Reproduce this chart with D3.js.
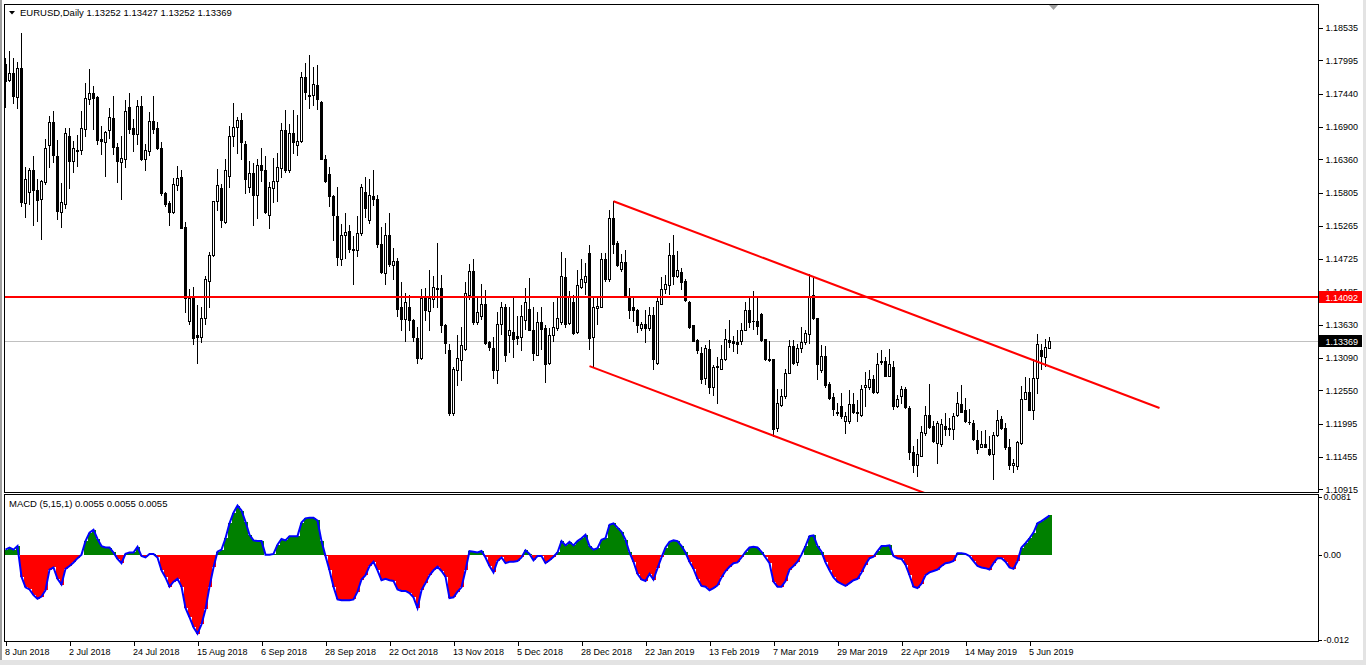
<!DOCTYPE html>
<html><head><meta charset="utf-8">
<script src="https://cdn.jsdelivr.net/npm/d3@7"></script>
<style>
body{margin:0;background:#fff;overflow:hidden}
svg{display:block}
text{font-family:"Liberation Sans",Arial,sans-serif;font-size:9px;fill:#000}
</style></head><body>
<svg id="chart" width="1366" height="665"></svg>
<script>
// ---------------- data ----------------
const symbolTitle = "EURUSD,Daily";
const headerValues = ["1.13252", "1.13427", "1.13252", "1.13369"];
const macdTitle = "MACD (5,15,1) 0.0055 0.0055 0.0055";
const firstDay = "2018-06-08";
const holidays = ["2018-12-25", "2019-01-01"];

const openP = [1.1794,1.1767,1.1778,1.1739,1.1786,1.1564,1.1583,1.1618,1.1585,1.1570,
1.1599,1.1660,1.1698,1.1642,1.1550,1.1563,1.1675,1.1633,1.1650,1.1651,
1.1686,1.1736,1.1745,1.1739,1.1669,1.1665,1.1685,1.1704,1.1657,1.1632,
1.1637,1.1722,1.1688,1.1678,1.1724,1.1637,1.1650,1.1699,1.1687,1.1655,
1.1580,1.1564,1.1550,1.1594,1.1607,1.1525,1.1370,1.1409,1.1346,1.1343,
1.1374,1.1435,1.1478,1.1567,1.1589,1.1533,1.1609,1.1675,1.1690,1.1701,
1.1662,1.1591,1.1613,1.1577,1.1626,1.1618,1.1544,1.1588,1.1600,1.1621,
1.1685,1.1619,1.1679,1.1659,1.1667,1.1772,1.1743,1.1743,1.1759,1.1730,
1.1636,1.1612,1.1576,1.1543,1.1472,1.1512,1.1518,1.1489,1.1487,1.1514,
1.1583,1.1536,1.1576,1.1570,1.1497,1.1449,1.1511,1.1461,1.1468,1.1392,
1.1373,1.1392,1.1371,1.1342,1.1309,1.1407,1.1386,1.1405,1.1424,1.1424,
1.1362,1.1322,1.1218,1.1288,1.1305,1.1324,1.1412,1.1452,1.1367,1.1378,
1.1398,1.1335,1.1325,1.1288,1.1365,1.1392,1.1346,1.1351,1.1344,1.1343,
1.1371,1.1389,1.1355,1.1314,1.1368,1.1358,1.1300,1.1347,1.1358,1.1367,
1.1442,1.1366,1.1401,1.1351,1.1425,1.1434,1.1481,1.1343,1.1391,1.1393,
1.1472,1.1438,1.1540,1.1498,1.1455,1.1466,1.1411,1.1392,1.1388,1.1358,
1.1364,1.1358,1.1380,1.1300,1.1398,1.1423,1.1429,1.1478,1.1444,1.1451,
1.1435,1.1401,1.1362,1.1338,1.1317,1.1275,1.1324,1.1260,1.1295,1.1291,
1.1307,1.1338,1.1336,1.1334,1.1336,1.1355,1.1387,1.1369,1.1370,1.1381,
1.1339,1.1305,1.1306,1.1193,1.1231,1.1245,1.1284,1.1328,1.1301,1.1325,
1.1335,1.1348,1.1412,1.1374,1.1288,1.1311,1.1266,1.1244,1.1218,1.1230,
1.1204,1.1204,1.1233,1.1218,1.1214,1.1260,1.1261,1.1273,1.1253,1.1302,
1.1303,1.1279,1.1293,1.1229,1.1245,1.1257,1.1226,1.1154,1.1132,1.1147,
1.1185,1.1215,1.1197,1.1168,1.1166,1.1197,1.1192,1.1192,1.1215,1.1233,
1.1222,1.1203,1.1201,1.1173,1.1162,1.1166,1.1158,1.1150,1.1181,1.1208,
1.1193,1.1161,1.1132,1.1130,1.1168,1.1241,1.1253,1.1223,1.1275,1.1321,
1.1310,1.13252];

const highP = [1.1804,1.1815,1.1804,1.1796,1.1845,1.1623,1.1621,1.1641,1.1604,1.1602,
1.1670,1.1707,1.1716,1.1668,1.1597,1.1687,1.1688,1.1667,1.1677,1.1716,
1.1762,1.1785,1.1757,1.1740,1.1691,1.1682,1.1721,1.1740,1.1663,1.1674,
1.1734,1.1745,1.1702,1.1734,1.1740,1.1661,1.1714,1.1741,1.1697,1.1664,
1.1582,1.1567,1.1605,1.1625,1.1618,1.1533,1.1423,1.1426,1.1395,1.1392,
1.1443,1.1483,1.1568,1.1620,1.1596,1.1637,1.1691,1.1729,1.1706,1.1713,
1.1667,1.1634,1.1630,1.1636,1.1655,1.1641,1.1599,1.1639,1.1647,1.1696,
1.1718,1.1694,1.1717,1.1710,1.1780,1.1795,1.1809,1.1788,1.1792,1.1732,
1.1643,1.1623,1.1578,1.1590,1.1529,1.1547,1.1528,1.1510,1.1543,1.1596,
1.1607,1.1604,1.1618,1.1577,1.1525,1.1531,1.1547,1.1490,1.1474,1.1433,
1.1416,1.1412,1.1373,1.1359,1.1423,1.1424,1.1454,1.1443,1.1498,1.1445,
1.1364,1.1332,1.1294,1.1346,1.1360,1.1433,1.1463,1.1471,1.1411,1.1431,
1.1420,1.1337,1.1343,1.1384,1.1400,1.1397,1.1392,1.1409,1.1377,1.1395,
1.1424,1.1441,1.1392,1.1385,1.1392,1.1362,1.1358,1.1401,1.1408,1.1484,
1.1473,1.1419,1.1412,1.1454,1.1471,1.1465,1.1495,1.1409,1.1409,1.1482,
1.1482,1.1552,1.1567,1.1501,1.1480,1.1487,1.1424,1.1408,1.1389,1.1368,
1.1387,1.1392,1.1392,1.1408,1.1442,1.1446,1.1498,1.1512,1.1485,1.1457,
1.1438,1.1403,1.1363,1.1340,1.1326,1.1329,1.1338,1.1297,1.1310,1.1329,
1.1356,1.1371,1.1345,1.1354,1.1366,1.1401,1.1411,1.1419,1.1408,1.1382,
1.1340,1.1337,1.1307,1.1257,1.1257,1.1291,1.1338,1.1338,1.1332,1.1359,
1.1355,1.1447,1.1441,1.1375,1.1329,1.1328,1.1269,1.1251,1.1234,1.1250,
1.1220,1.1256,1.1251,1.1239,1.1264,1.1286,1.1288,1.1280,1.1316,1.1322,
1.1310,1.1324,1.1304,1.1248,1.1262,1.1260,1.1229,1.1164,1.1174,1.1196,
1.1230,1.1266,1.1204,1.1204,1.1207,1.1218,1.1210,1.1217,1.1253,1.1264,
1.1242,1.1224,1.1206,1.1189,1.1188,1.1189,1.1180,1.1186,1.1222,1.1213,
1.1201,1.1175,1.1142,1.1171,1.1262,1.1277,1.1275,1.1306,1.1348,1.1332,
1.1340,1.13427];

const lowP = [1.1722,1.1766,1.1729,1.1720,1.1559,1.1541,1.1562,1.1528,1.1534,1.1505,
1.1596,1.1624,1.1631,1.1538,1.1525,1.1555,1.1588,1.1616,1.1625,1.1645,
1.1675,1.1728,1.1686,1.1661,1.1645,1.1608,1.1672,1.1645,1.1598,1.1571,
1.1623,1.1679,1.1650,1.1661,1.1635,1.1618,1.1644,1.1680,1.1653,1.1577,
1.1559,1.1528,1.1547,1.1585,1.1522,1.1385,1.1364,1.1331,1.1300,1.1335,
1.1364,1.1392,1.1476,1.1552,1.1525,1.1531,1.1590,1.1658,1.1647,1.1637,
1.1581,1.1583,1.1528,1.1540,1.1601,1.1547,1.1522,1.1565,1.1567,1.1607,
1.1615,1.1615,1.1647,1.1644,1.1664,1.1735,1.1721,1.1725,1.1719,1.1636,
1.1599,1.1559,1.1503,1.1461,1.1461,1.1473,1.1483,1.1430,1.1477,1.1511,
1.1541,1.1531,1.1560,1.1492,1.1449,1.1431,1.1460,1.1438,1.1377,1.1355,
1.1336,1.1355,1.1337,1.1300,1.1306,1.1371,1.1355,1.1393,1.1393,1.1351,
1.1316,1.1215,1.1215,1.1264,1.1272,1.1321,1.1405,1.1365,1.1365,1.1373,
1.1332,1.1322,1.1275,1.1267,1.1348,1.1304,1.1318,1.1310,1.1332,1.1321,
1.1357,1.1354,1.1305,1.1313,1.1324,1.1269,1.1299,1.1336,1.1355,1.1365,
1.1359,1.1365,1.1348,1.1349,1.1424,1.1414,1.1324,1.1294,1.1365,1.1393,
1.1436,1.1435,1.1482,1.1460,1.1452,1.1409,1.1375,1.1370,1.1351,1.1354,
1.1335,1.1354,1.1290,1.1299,1.1397,1.1416,1.1414,1.1430,1.1442,1.1422,
1.1403,1.1358,1.1336,1.1316,1.1267,1.1266,1.1250,1.1248,1.1234,1.1290,
1.1305,1.1327,1.1320,1.1317,1.1332,1.1354,1.1359,1.1356,1.1348,1.1337,
1.1305,1.1304,1.1179,1.1188,1.1229,1.1242,1.1283,1.1299,1.1297,1.1318,
1.1332,1.1333,1.1373,1.1273,1.1286,1.1261,1.1241,1.1215,1.1215,1.1210,
1.1185,1.1201,1.1217,1.1204,1.1212,1.1229,1.1258,1.1251,1.1251,1.1298,
1.1278,1.1279,1.1224,1.1228,1.1234,1.1226,1.1142,1.1120,1.1113,1.1146,
1.1181,1.1193,1.1170,1.1136,1.1163,1.1182,1.1182,1.1175,1.1213,1.1219,
1.1203,1.1200,1.1173,1.1152,1.1161,1.1161,1.1148,1.1109,1.1179,1.1192,
1.1159,1.1125,1.1120,1.1125,1.1166,1.1240,1.1222,1.1208,1.1251,1.1290,
1.1295,1.13252];

const closeP = [1.1765,1.1778,1.1740,1.1786,1.1565,1.1603,1.1618,1.1585,1.1569,1.1600,
1.1654,1.1698,1.1643,1.1551,1.1565,1.1679,1.1633,1.1654,1.1651,1.1687,
1.1737,1.1745,1.1738,1.1668,1.1666,1.1681,1.1706,1.1657,1.1634,1.1638,
1.1716,1.1686,1.1678,1.1724,1.1637,1.1652,1.1699,1.1686,1.1655,1.1580,
1.1562,1.1549,1.1595,1.1606,1.1523,1.1407,1.1408,1.1342,1.1343,1.1374,
1.1438,1.1479,1.1567,1.1593,1.1536,1.1618,1.1675,1.1690,1.1701,1.1665,
1.1604,1.1613,1.1577,1.1626,1.1619,1.1550,1.1590,1.1601,1.1623,1.1685,
1.1618,1.1679,1.1664,1.1667,1.1772,1.1747,1.1740,1.1761,1.1735,1.1637,
1.1600,1.1575,1.1544,1.1475,1.1512,1.1516,1.1488,1.1487,1.1515,1.1590,
1.1555,1.1577,1.1570,1.1496,1.1451,1.1511,1.1463,1.1468,1.1389,1.1373,
1.1400,1.1371,1.1343,1.1309,1.1408,1.1388,1.1407,1.1426,1.1423,1.1362,
1.1333,1.1218,1.1290,1.1308,1.1329,1.1415,1.1452,1.1367,1.1384,1.1398,
1.1333,1.1327,1.1288,1.1365,1.1393,1.1313,1.1354,1.1340,1.1342,1.1377,
1.1400,1.1355,1.1317,1.1368,1.1356,1.1299,1.1347,1.1359,1.1374,1.1444,
1.1365,1.1409,1.1349,1.1428,1.1438,1.1444,1.1342,1.1393,1.1394,1.1472,
1.1438,1.1540,1.1496,1.1461,1.1466,1.1411,1.1388,1.1387,1.1362,1.1364,
1.1358,1.1380,1.1306,1.1403,1.1423,1.1430,1.1478,1.1444,1.1453,1.1434,
1.1404,1.1359,1.1337,1.1321,1.1274,1.1325,1.1260,1.1294,1.1293,1.1307,
1.1340,1.1335,1.1333,1.1331,1.1355,1.1387,1.1367,1.1370,1.1361,1.1338,
1.1306,1.1306,1.1192,1.1234,1.1245,1.1284,1.1328,1.1300,1.1325,1.1335,
1.1349,1.1411,1.1374,1.1299,1.1311,1.1264,1.1242,1.1224,1.1220,1.1212,
1.1213,1.1233,1.1220,1.1220,1.1258,1.1264,1.1273,1.1253,1.1298,1.1303,
1.1279,1.1298,1.1230,1.1241,1.1257,1.1228,1.1154,1.1132,1.1150,1.1186,
1.1215,1.1195,1.1171,1.1201,1.1200,1.1192,1.1193,1.1213,1.1234,1.1220,
1.1204,1.1202,1.1174,1.1158,1.1166,1.1162,1.1150,1.1182,1.1206,1.1193,
1.1161,1.1132,1.1135,1.1169,1.1241,1.1253,1.1223,1.1275,1.1332,1.1311,
1.1327,1.13369];

const macdValues = [0.0007,0.0010,0.0007,0.0012,-0.0031,-0.0046,-0.0049,-0.0057,-0.0062,-0.0059,
-0.0050,-0.0021,-0.0018,-0.0034,-0.0042,-0.0020,-0.0016,-0.0011,-0.0005,0.0000,
0.0019,0.0031,0.0035,0.0022,0.0012,0.0010,0.0010,0.0003,-0.0006,-0.0012,
0.0001,0.0003,0.0003,0.0011,-0.0002,-0.0004,0.0001,0.0001,-0.0004,-0.0022,
-0.0032,-0.0045,-0.0038,-0.0034,-0.0045,-0.0075,-0.0088,-0.0102,-0.0111,-0.0098,
-0.0077,-0.0045,-0.0018,0.0004,0.0007,0.0023,0.0044,0.0059,0.0069,0.0062,
0.0046,0.0028,0.0020,0.0019,0.0019,0.0000,0.0000,0.0001,0.0014,0.0022,
0.0020,0.0026,0.0026,0.0026,0.0045,0.0051,0.0052,0.0052,0.0048,0.0019,
-0.0002,-0.0022,-0.0045,-0.0063,-0.0064,-0.0064,-0.0064,-0.0063,-0.0052,-0.0035,
-0.0029,-0.0016,-0.0010,-0.0022,-0.0036,-0.0034,-0.0036,-0.0037,-0.0049,-0.0051,
-0.0051,-0.0054,-0.0060,-0.0075,-0.0050,-0.0040,-0.0029,-0.0022,-0.0017,-0.0023,
-0.0031,-0.0061,-0.0060,-0.0052,-0.0046,-0.0022,0.0005,0.0004,0.0003,0.0005,
-0.0004,-0.0016,-0.0025,-0.0009,-0.0004,-0.0012,-0.0010,-0.0010,-0.0009,-0.0004,
0.0006,0.0001,-0.0008,-0.0002,-0.0002,-0.0012,-0.0008,-0.0003,0.0003,0.0019,
0.0013,0.0018,0.0013,0.0019,0.0023,0.0028,0.0012,0.0007,0.0009,0.0021,
0.0023,0.0042,0.0044,0.0038,0.0032,0.0021,0.0003,-0.0010,-0.0027,-0.0035,
-0.0037,-0.0027,-0.0035,-0.0019,-0.0004,0.0010,0.0018,0.0020,0.0019,0.0012,
0.0003,-0.0010,-0.0020,-0.0034,-0.0044,-0.0045,-0.0050,-0.0047,-0.0043,-0.0032,
-0.0023,-0.0017,-0.0012,-0.0011,-0.0004,0.0004,0.0010,0.0011,0.0010,0.0004,
-0.0004,-0.0012,-0.0038,-0.0045,-0.0045,-0.0037,-0.0021,-0.0016,-0.0010,0.0000,
0.0012,0.0026,0.0027,0.0012,0.0004,-0.0011,-0.0022,-0.0032,-0.0038,-0.0041,
-0.0044,-0.0040,-0.0036,-0.0034,-0.0025,-0.0014,-0.0005,-0.0003,0.0005,0.0012,
0.0012,0.0013,-0.0002,-0.0005,-0.0006,-0.0014,-0.0029,-0.0045,-0.0047,-0.0041,
-0.0029,-0.0025,-0.0023,-0.0021,-0.0016,-0.0012,-0.0011,-0.0009,0.0002,0.0002,
0.0001,-0.0002,-0.0009,-0.0016,-0.0018,-0.0019,-0.0021,-0.0012,-0.0005,-0.0005,
-0.0010,-0.0018,-0.0020,-0.0009,0.0010,0.0016,0.0023,0.0031,0.0044,0.0047,
0.0051,0.0055];

const priceTicks = [1.18535,1.17995,1.17440,1.16900,1.16360,1.15805,1.15265,1.14725,1.14185,1.13630,1.13090,1.12550,1.11995,1.11455,1.10915];
const macdTicks = [0.0081, 0.0, -0.012];
const macdTickLabels = ["0.0081", "0.00", "-0.012"];
const dateTickLabels = ["8 Jun 2018","2 Jul 2018","24 Jul 2018","15 Aug 2018","6 Sep 2018","28 Sep 2018","22 Oct 2018","13 Nov 2018","5 Dec 2018","28 Dec 2018","22 Jan 2019","13 Feb 2019","7 Mar 2019","29 Mar 2019","22 Apr 2019","14 May 2019","5 Jun 2019"];

const resistanceLevel = 1.14092;
const bidLevel = 1.13369;
// trend channel anchor points: [bar index, price]
const channelUpper = [[152, 1.1567], [288.5, 1.1226]];
const channelLower = [[146, 1.1295], [288.5, 1.0939]];

// ---------------- layout ----------------
const W = 1366, H = 665;
const L = 4, R = 1318;
const mainTop = 4, mainBot = 492;
const subTop = 494, subBot = 641;
const priceDomain = [1.10857, 1.18923];
const macdDomain = [-0.012, 0.0081];
const FONT = "Liberation Sans, Arial, sans-serif";

const n = closeP.length;
const parse = d3.timeParse("%Y-%m-%d"), fmt = d3.timeFormat("%Y-%m-%d"), lab = d3.timeFormat("%-d %b %Y");
const dates = d3.timeDay.range(parse(firstDay), d3.timeDay.offset(parse(firstDay), 400))
  .filter(d => d.getDay() > 0 && d.getDay() < 6 && !holidays.includes(fmt(d)))
  .slice(0, n);

const bars = d3.range(n).map(i => ({i, date: dates[i], o: openP[i], h: highP[i], l: lowP[i], c: closeP[i], m: macdValues[i]}));

const x = d3.scaleLinear().domain([0, n - 1]).range([5.5, 5.5 + 4 * (n - 1)]);
const y = d3.scaleLinear().domain(priceDomain).range([mainBot + 1, mainTop]);
const ym = d3.scaleLinear().domain(macdDomain).range([subBot - 1, subTop + 3]);

const svg = d3.select("#chart").attr("shape-rendering", "crispEdges");
svg.append("rect").attr("width", W).attr("height", H).attr("fill", "#fff");

// outer window frame
svg.append("rect").attr("x", 0).attr("y", 0).attr("width", 2).attr("height", H).attr("fill", "#a0a0a0");
svg.append("rect").attr("x", 0).attr("y", 660).attr("width", W).attr("height", 5).attr("fill", "#e3e3e3");
svg.append("rect").attr("x", 1363).attr("y", 0).attr("width", 3).attr("height", H).attr("fill", "#e3e3e3");

const defs = svg.append("defs");
defs.append("clipPath").attr("id", "clipMain").append("rect")
  .attr("x", L + 1).attr("y", mainTop + 1).attr("width", R - L - 1).attr("height", mainBot - mainTop - 1);
defs.append("clipPath").attr("id", "clipSub").append("rect")
  .attr("x", L + 1).attr("y", subTop + 1).attr("width", R - L - 1).attr("height", subBot - subTop - 1);

const gMain = svg.append("g").attr("clip-path", "url(#clipMain)");
const gSub = svg.append("g").attr("clip-path", "url(#clipSub)");

// bid line
gMain.append("line").attr("x1", L).attr("x2", R).attr("y1", Math.round(y(bidLevel)) + 0.5).attr("y2", Math.round(y(bidLevel)) + 0.5)
  .attr("stroke", "#c0c0c0").attr("stroke-width", 1);

// candles
const cg = gMain.append("g");
bars.forEach(b => {
  const cx = x(b.i);
  const yh = Math.round(y(b.h)), yl = Math.round(y(b.l));
  cg.append("line").attr("x1", cx).attr("x2", cx).attr("y1", yh).attr("y2", yl + 1).attr("stroke", "#000").attr("stroke-width", 1);
  const yo = Math.round(y(b.o)), yc = Math.round(y(b.c));
  const top = Math.min(yo, yc), bot = Math.max(yo, yc);
  if (bot - top < 2) {
    cg.append("rect").attr("x", cx - 1.5).attr("y", top).attr("width", 3).attr("height", Math.max(1, bot - top + 1)).attr("fill", "#000");
  } else if (b.c < b.o) {
    cg.append("rect").attr("x", cx - 1.5).attr("y", top).attr("width", 3).attr("height", bot - top + 1).attr("fill", "#000");
  } else {
    cg.append("rect").attr("x", cx - 1).attr("y", top + 0.5).attr("width", 2).attr("height", bot - top).attr("fill", "#fff").attr("stroke", "#000").attr("stroke-width", 1);
  }
});

// resistance line
gMain.append("line").attr("x1", L).attr("x2", R).attr("y1", y(resistanceLevel)).attr("y2", y(resistanceLevel))
  .attr("stroke", "#ff0000").attr("stroke-width", 2);

// channel lines
[channelUpper, channelLower].forEach(seg => {
  gMain.append("line")
    .attr("x1", x(seg[0][0])).attr("y1", y(seg[0][1]))
    .attr("x2", x(seg[1][0])).attr("y2", y(seg[1][1]))
    .attr("stroke", "#ff0000").attr("stroke-width", 2).attr("shape-rendering", "auto");
});

// MACD histogram
const y0 = ym(0);
gSub.selectAll("rect.h").data(bars).enter().append("rect")
  .attr("x", d => x(d.i) - 2).attr("width", 4)
  .attr("y", d => Math.min(y0, ym(d.m))).attr("height", d => Math.abs(ym(d.m) - y0))
  .attr("fill", d => d.m >= 0 ? "#008000" : "#ff0000");
gSub.append("path").datum(bars)
  .attr("d", d3.line().x(d => x(d.i)).y(d => ym(d.m)))
  .attr("fill", "none").attr("stroke", "#0000ff").attr("stroke-width", 2).attr("shape-rendering", "auto");

// frames
const frame = (y1, y2) => svg.append("rect").attr("x", L + 0.5).attr("y", y1 + 0.5).attr("width", R - L).attr("height", y2 - y1)
  .attr("fill", "none").attr("stroke", "#000").attr("stroke-width", 1);
frame(mainTop, mainBot);
frame(subTop, subBot);

// price axis
const yAxis = d3.axisRight(y).tickValues(priceTicks).tickFormat(d3.format(".5f")).tickSize(4).tickPadding(3);
const ya = svg.append("g").attr("transform", `translate(${R + 0.5},0)`).call(yAxis);
ya.select(".domain").remove();
ya.selectAll("line").attr("stroke", "#000");
ya.selectAll("text").attr("font-size", "9px").attr("font-family", FONT).attr("fill", "#000");

const mAxis = d3.axisRight(ym).tickValues(macdTicks).tickFormat((d, i) => macdTickLabels[i]).tickSize(3).tickPadding(2);
const ma = svg.append("g").attr("transform", `translate(${R + 0.5},0)`).call(mAxis);
ma.select(".domain").remove();
ma.selectAll("line").attr("stroke", "#000");
ma.selectAll("text").attr("font-size", "9px").attr("font-family", FONT).attr("fill", "#000");

// price labels
function priceTag(v, bg) {
  const yy = Math.round(y(v));
  svg.append("rect").attr("x", R + 1).attr("y", yy - 6).attr("width", 1362 - R - 1).attr("height", 12).attr("fill", bg);
  svg.append("text").attr("x", R + 7.5).attr("y", yy + 3.5).text(d3.format(".5f")(v)).style("fill", "#fff");
}
priceTag(resistanceLevel, "#ff0000");
priceTag(bidLevel, "#000000");

// time axis
const tickIdx = dateTickLabels.map(t => dates.findIndex(d => lab(d) === t));
const xAxis = d3.axisBottom(x).tickValues(tickIdx).tickFormat((d, i) => dateTickLabels[i]).tickSize(4).tickPadding(3);
const xa = svg.append("g").attr("transform", `translate(0,${subBot + 0.5})`).call(xAxis);
xa.select(".domain").remove();
xa.selectAll("line").attr("stroke", "#000");
xa.selectAll("text").attr("text-anchor", "start").attr("dx", "-1").attr("font-size", "9px")
  .attr("font-family", FONT).attr("fill", "#000");

// titles
svg.append("path").attr("d", "M9,11 L15,11 L12,14.5 Z").attr("fill", "#000").attr("shape-rendering", "auto");
svg.append("text").attr("x", 20).attr("y", 16).style("font-size", "9.5px").text(symbolTitle + "  " + headerValues.join(" "));
svg.append("text").attr("x", 9).attr("y", 507).style("font-size", "9.5px").text(macdTitle);

// chart shift marker
svg.append("path").attr("d", "M1049,5 L1058,5 L1053.5,10 Z").attr("fill", "#a0a0a0").attr("shape-rendering", "auto");
</script></body></html>
